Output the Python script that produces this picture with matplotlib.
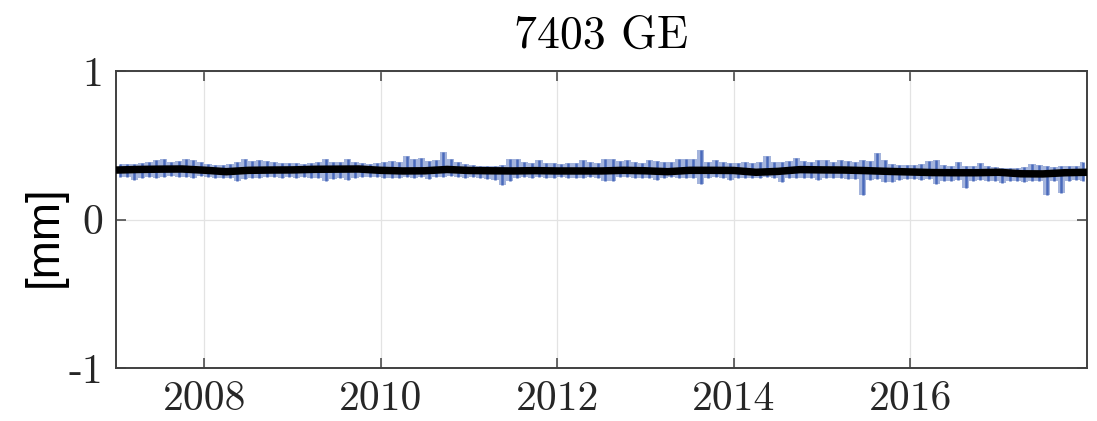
import matplotlib
matplotlib.use("Agg")
import matplotlib.pyplot as plt
import numpy as np

# Station time series, monthly envelope of the daily values [mm], starting Jan 2007
start_year = 2007
upper = [
    0.372, 0.375, 0.372, 0.380, 0.385, 0.400, 0.405, 0.385, 0.395, 0.410, 0.400, 0.385,
    0.375, 0.368, 0.365, 0.375, 0.390, 0.410, 0.395, 0.400, 0.395, 0.385, 0.380, 0.378,
    0.382, 0.375, 0.380, 0.390, 0.405, 0.388, 0.385, 0.408, 0.390, 0.380, 0.375, 0.378,
    0.385, 0.395, 0.385, 0.430, 0.410, 0.412, 0.395, 0.400, 0.455, 0.405, 0.385, 0.372,
    0.365, 0.360, 0.362, 0.358, 0.365, 0.405, 0.410, 0.385, 0.380, 0.400, 0.382, 0.378,
    0.375, 0.380, 0.378, 0.400, 0.385, 0.380, 0.405, 0.405, 0.395, 0.400, 0.385, 0.380,
    0.400, 0.392, 0.385, 0.390, 0.410, 0.405, 0.405, 0.468, 0.390, 0.400, 0.385, 0.380,
    0.378, 0.385, 0.380, 0.390, 0.430, 0.385, 0.390, 0.395, 0.415, 0.392, 0.385, 0.400,
    0.398, 0.385, 0.400, 0.392, 0.388, 0.400, 0.395, 0.450, 0.400, 0.375, 0.370, 0.368,
    0.365, 0.372, 0.395, 0.400, 0.365, 0.360, 0.385, 0.360, 0.358, 0.378, 0.360, 0.352,
    0.350, 0.348, 0.350, 0.355, 0.375, 0.365, 0.362, 0.355, 0.362, 0.358, 0.360, 0.388,
]
lower = [
    0.288, 0.285, 0.268, 0.282, 0.285, 0.280, 0.284, 0.290, 0.283, 0.286, 0.280, 0.290,
    0.285, 0.278, 0.282, 0.280, 0.262, 0.270, 0.282, 0.279, 0.283, 0.285, 0.282, 0.285,
    0.280, 0.283, 0.278, 0.282, 0.260, 0.275, 0.280, 0.265, 0.278, 0.283, 0.285, 0.288,
    0.282, 0.280, 0.278, 0.283, 0.280, 0.285, 0.272, 0.283, 0.285, 0.292, 0.285, 0.280,
    0.283, 0.280, 0.275, 0.268, 0.235, 0.260, 0.280, 0.283, 0.278, 0.285, 0.280, 0.282,
    0.285, 0.278, 0.282, 0.280, 0.283, 0.278, 0.258, 0.262, 0.283, 0.285, 0.282, 0.280,
    0.278, 0.266, 0.280, 0.283, 0.280, 0.278, 0.282, 0.238, 0.278, 0.283, 0.280, 0.265,
    0.280, 0.278, 0.282, 0.280, 0.283, 0.280, 0.255, 0.278, 0.282, 0.280, 0.278, 0.266,
    0.280, 0.282, 0.278, 0.275, 0.270, 0.165, 0.268, 0.270, 0.250, 0.255, 0.268, 0.272,
    0.270, 0.268, 0.270, 0.238, 0.262, 0.258, 0.265, 0.212, 0.262, 0.265, 0.260, 0.262,
    0.245, 0.258, 0.262, 0.255, 0.258, 0.262, 0.168, 0.258, 0.178, 0.260, 0.265, 0.262,
]

# Smoothed signal [mm]
trend_years = [
    2007.00, 2007.25, 2007.50, 2007.75, 2008.00, 2008.25, 2008.50, 2008.75,
    2009.00, 2009.25, 2009.50, 2009.75, 2010.00, 2010.25, 2010.50, 2010.75,
    2011.00, 2011.25, 2011.50, 2011.75, 2012.00, 2012.25, 2012.50, 2012.75,
    2013.00, 2013.25, 2013.50, 2013.75, 2014.00, 2014.25, 2014.50, 2014.75,
    2015.00, 2015.25, 2015.50, 2015.75, 2016.00, 2016.25, 2016.50, 2016.75,
    2017.00, 2017.25, 2017.50, 2017.75, 2018.00,
]
trend_vals = [
    0.333, 0.337, 0.339, 0.340, 0.332, 0.322, 0.331, 0.333,
    0.334, 0.338, 0.339, 0.340, 0.331, 0.327, 0.328, 0.337,
    0.330, 0.328, 0.327, 0.329, 0.327, 0.327, 0.327, 0.331,
    0.328, 0.322, 0.331, 0.331, 0.330, 0.318, 0.324, 0.336,
    0.334, 0.333, 0.329, 0.324, 0.320, 0.316, 0.315, 0.315,
    0.318, 0.308, 0.307, 0.315, 0.318,
]

x_ticks = [2008, 2010, 2012, 2014, 2016]
x_tick_labels = ["2008", "2010", "2012", "2014", "2016"]
y_ticks = [-1, 0, 1]
y_tick_labels = ["-1", "0", "1"]
title_text = "7403 GE"
y_label_text = "[mm]"

serif = "cmr10"
text_color = "#262626"
axis_color = "#404040"
blue = "#4a6abb"

fig = plt.figure(figsize=(10.97, 4.21), dpi=100)
ax = fig.add_axes([0.10574, 0.12589, 0.88514, 0.70546])

# Spread of the daily values: one high/low bar per month
n = len(upper)
t_month = start_year + (np.arange(n) + 0.5) / 12.0
ax.fill_between(t_month, lower, upper, step="mid", color=blue, alpha=0.5,
                linewidth=0, zorder=2)
ax.vlines(t_month, lower, upper, color=blue, linewidth=1.8, zorder=2)

ax.plot(trend_years, trend_vals, color="black", linewidth=5.4,
        solid_capstyle="butt", zorder=3)

ax.set_xlim(2007, 2018)
ax.set_ylim(-1, 1)
ax.set_xticks(x_ticks)
ax.set_xticklabels(x_tick_labels, fontfamily=serif, fontsize=30, color=text_color)
ax.set_yticks(y_ticks)
ax.set_yticklabels(y_tick_labels, fontfamily=serif, fontsize=30, color=text_color)

ax.grid(True, color="#e3e3e3", linewidth=0.9)
ax.set_axisbelow(True)
ax.tick_params(direction="in", length=7.5, width=1.1, color=axis_color,
               top=True, right=True, pad=9)
for side in ax.spines.values():
    side.set_color(axis_color)
    side.set_linewidth(1.4)

ax.set_title(title_text, fontfamily=serif, fontsize=33, color="black", pad=17)
fig.text(45 / 1097, 1 - 236 / 421, y_label_text, rotation=90, ha="center",
         va="center", fontfamily="Liberation Sans", fontsize=33, color="black")

fig.savefig("out.png", dpi=100)
